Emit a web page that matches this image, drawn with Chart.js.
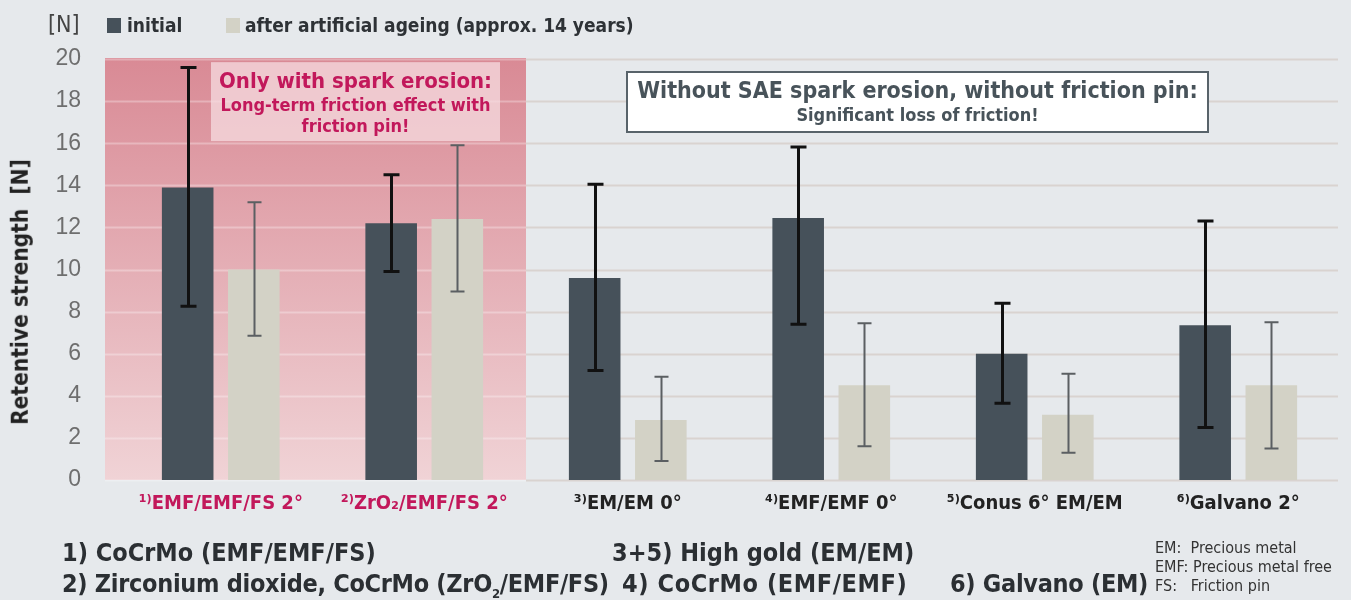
<!DOCTYPE html>
<html>
<head>
<meta charset="utf-8">
<script src="https://cdn.jsdelivr.net/npm/chart.js@4.4.1/dist/chart.umd.min.js"></script>
<style>
  html, body { margin:0; padding:0; background:#e6e9ec; }
  #wrap { position:relative; width:1351px; height:600px; overflow:hidden; }
  canvas { position:absolute; left:0; top:0; }
  .t { position:absolute; white-space:nowrap; line-height:1; font-family:'Liberation Sans Narrow','DejaVu Sans Condensed',sans-serif; }
  .b { font-weight:bold; }
  .sq { position:absolute; width:14px; height:15px; }
</style>
</head>
<body>
<div id="wrap">
  <canvas id="c" width="1351" height="600"></canvas>
  <div class="t" style="left:48px; top:13px; font-size:23px; color:#444;">[N]</div>
  <div class="sq" style="left:107px; top:18px; background:#46515a;"></div>
  <div class="t b" style="left:127px; top:16px; font-size:19px; color:#2e3236;">initial</div>
  <div class="sq" style="left:226px; top:18px; background:#d3d2c6;"></div>
  <div class="t b" style="left:245px; top:16px; font-size:19px; color:#2e3236;">after artificial ageing (approx. 14 years)</div>
  <div class="t b" style="left:20px; top:292px; font-size:22.5px; color:#222; transform:translate(-50%,-50%) rotate(-90deg);">Retentive strength&nbsp;&nbsp;[N]</div>
  <div class="t b" style="left:62px; top:540px; font-size:25px; color:#2b2f33;">1) CoCrMo (EMF/EMF/FS)</div>
  <div class="t b" style="left:62px; top:571px; font-size:25px; color:#2b2f33; letter-spacing:-0.3px;">2) Zirconium dioxide, CoCrMo (ZrO<sub style="font-size:13px;">2</sub>/EMF/FS)</div>
  <div class="t b" style="left:612px; top:540px; font-size:25px; color:#2b2f33;">3+5) High gold (EM/EM)</div>
  <div class="t b" style="left:622px; top:571px; font-size:25px; color:#2b2f33; letter-spacing:0.6px;">4) CoCrMo (EMF/EMF)</div>
  <div class="t b" style="left:950px; top:571px; font-size:25px; color:#2b2f33; letter-spacing:-0.3px;">6) Galvano (EM)</div>
  <div class="t" style="left:1155px; top:540px; font-size:16px; color:#333;">EM:&nbsp;&nbsp;Precious metal</div>
  <div class="t" style="left:1155px; top:559px; font-size:16px; color:#333;">EMF: Precious metal free</div>
  <div class="t" style="left:1155px; top:578px; font-size:16px; color:#333;">FS:&nbsp;&nbsp;&nbsp;Friction pin</div>
</div>
<script>
const categories = ['¹⁾EMF/EMF/FS 2°', '²⁾ZrO₂/EMF/FS 2°', '³⁾EM/EM 0°', '⁴⁾EMF/EMF 0°', '⁵⁾Conus 6° EM/EM', '⁶⁾Galvano 2°'];
const initialValues = [13.9, 12.2, 9.6, 12.45, 6.0, 7.35];
const initialErrHigh = [19.6, 14.5, 14.05, 15.82, 8.4, 12.3];
const initialErrLow = [8.25, 9.9, 5.2, 7.4, 3.65, 2.5];
const ageingValues = [10.0, 12.4, 2.85, 4.5, 3.1, 4.5];
const ageingErrHigh = [13.2, 15.9, 4.9, 7.45, 5.05, 7.5];
const ageingErrLow = [6.85, 8.95, 0.9, 1.6, 1.3, 1.5];
const yTicks = [0, 2, 4, 6, 8, 10, 12, 14, 16, 18, 20];
const highlightedCount = 2;

const FONT = "'Liberation Sans Narrow','DejaVu Sans Condensed',sans-serif";
const CRIMSON = '#c2185b';

const decor = {
  id: 'decor',
  beforeDatasetsDraw(chart) {
    const ctx = chart.ctx;
    const xs = chart.scales.x, ys = chart.scales.y;
    const left = 105, right = 1338;
    const top = ys.getPixelForValue(20), bottom = ys.getPixelForValue(0);
    const split = (xs.getPixelForValue(highlightedCount - 1) + xs.getPixelForValue(highlightedCount)) / 2;
    ctx.save();
    ctx.lineWidth = 2;
    ctx.strokeStyle = '#d9d3d0';
    yTicks.forEach(v => {
      const y = Math.round(ys.getPixelForValue(v)) + 0.5;
      ctx.beginPath(); ctx.moveTo(split, y); ctx.lineTo(right, y); ctx.stroke();
    });
    const g = ctx.createLinearGradient(0, top, 0, bottom);
    g.addColorStop(0, '#d98a95');
    g.addColorStop(1, '#f0d3d6');
    ctx.fillStyle = g;
    ctx.fillRect(left, top - 1, split - left, bottom - top + 1);
    ctx.strokeStyle = 'rgba(255,255,255,0.3)';
    yTicks.forEach(v => {
      const y = Math.round(ys.getPixelForValue(v)) + 0.5;
      ctx.beginPath(); ctx.moveTo(left, y); ctx.lineTo(split, y); ctx.stroke();
    });
    const bx1 = 211, bx2 = 500, by1 = ys.getPixelForValue(19.85), by2 = ys.getPixelForValue(16.1);
    ctx.fillStyle = 'rgba(246,220,224,0.75)';
    ctx.fillRect(bx1, by1, bx2 - bx1, by2 - by1);
    ctx.fillStyle = CRIMSON;
    ctx.textAlign = 'center';
    ctx.textBaseline = 'middle';
    const cx = (bx1 + bx2) / 2;
    ctx.font = 'bold 22px ' + FONT;
    ctx.fillText('Only with spark erosion:', cx, by1 + 20);
    ctx.font = 'bold 18px ' + FONT;
    ctx.fillText('Long-term friction effect with', cx, by1 + 44);
    ctx.fillText('friction pin!', cx, by1 + 65);
    const wx1 = 627, wx2 = 1208, wy1 = 72, wy2 = 132;
    ctx.fillStyle = '#ffffff';
    ctx.fillRect(wx1, wy1, wx2 - wx1, wy2 - wy1);
    ctx.lineWidth = 2;
    ctx.strokeStyle = '#58636a';
    ctx.strokeRect(wx1, wy1, wx2 - wx1, wy2 - wy1);
    ctx.fillStyle = '#48535a';
    const wcx = (wx1 + wx2) / 2;
    ctx.font = 'bold 23px ' + FONT;
    ctx.fillText('Without SAE spark erosion, without friction pin:', wcx, 92);
    ctx.font = 'bold 18px ' + FONT;
    ctx.fillText('Significant loss of friction!', wcx, 116);
    ctx.restore();
  },
  afterDatasetsDraw(chart) {
    const ctx = chart.ctx;
    const ys = chart.scales.y;
    const specs = [
      { hi: initialErrHigh, lo: initialErrLow, color: '#111111', w: 3, cap: 8 },
      { hi: ageingErrHigh, lo: ageingErrLow, color: '#5b5f62', w: 2, cap: 7 }
    ];
    ctx.save();
    specs.forEach((s, di) => {
      const meta = chart.getDatasetMeta(di);
      meta.data.forEach((el, i) => {
        const x = Math.round(el.x) + 0.5;
        const yh = ys.getPixelForValue(s.hi[i]);
        const yl = ys.getPixelForValue(s.lo[i]);
        ctx.strokeStyle = s.color;
        ctx.lineWidth = s.w;
        ctx.beginPath();
        ctx.moveTo(x, yh); ctx.lineTo(x, yl);
        ctx.moveTo(x - s.cap, yh); ctx.lineTo(x + s.cap, yh);
        ctx.moveTo(x - s.cap, yl); ctx.lineTo(x + s.cap, yl);
        ctx.stroke();
      });
    });
    ctx.restore();
  }
};

new Chart(document.getElementById('c'), {
  type: 'bar',
  data: {
    labels: categories,
    datasets: [
      { label: 'initial', data: initialValues, backgroundColor: '#46515a' },
      { label: 'after artificial ageing (approx. 14 years)', data: ageingValues, backgroundColor: '#d3d2c6' }
    ]
  },
  options: {
    responsive: false,
    animation: false,
    devicePixelRatio: 1,
    layout: { padding: { left: 0, right: 11, top: 59, bottom: 0 } },
    datasets: { bar: { categoryPercentage: 0.65, barPercentage: 0.78 } },
    plugins: { legend: { display: false }, tooltip: { enabled: false } },
    scales: {
      x: {
        grid: { display: false, drawTicks: false },
        border: { display: false },
        afterFit(s) { s.height = 120; },
        ticks: {
          padding: 12,
          maxRotation: 0,
          autoSkip: false,
          font: { family: FONT, size: 20, weight: 'bold' },
          color: (c) => c.index < highlightedCount ? CRIMSON : '#222222'
        }
      },
      y: {
        min: 0, max: 20,
        grid: { display: false, drawTicks: false },
        border: { display: false },
        afterFit(s) { s.width = 119; },
        afterBuildTicks(s) { s.ticks = yTicks.map(v => ({ value: v })); },
        ticks: {
          padding: 38,
          font: { family: "'Liberation Sans', Arial, sans-serif", size: 23 },
          color: '#6e6e6e'
        }
      }
    }
  },
  plugins: [decor]
});
</script>
</body>
</html>
